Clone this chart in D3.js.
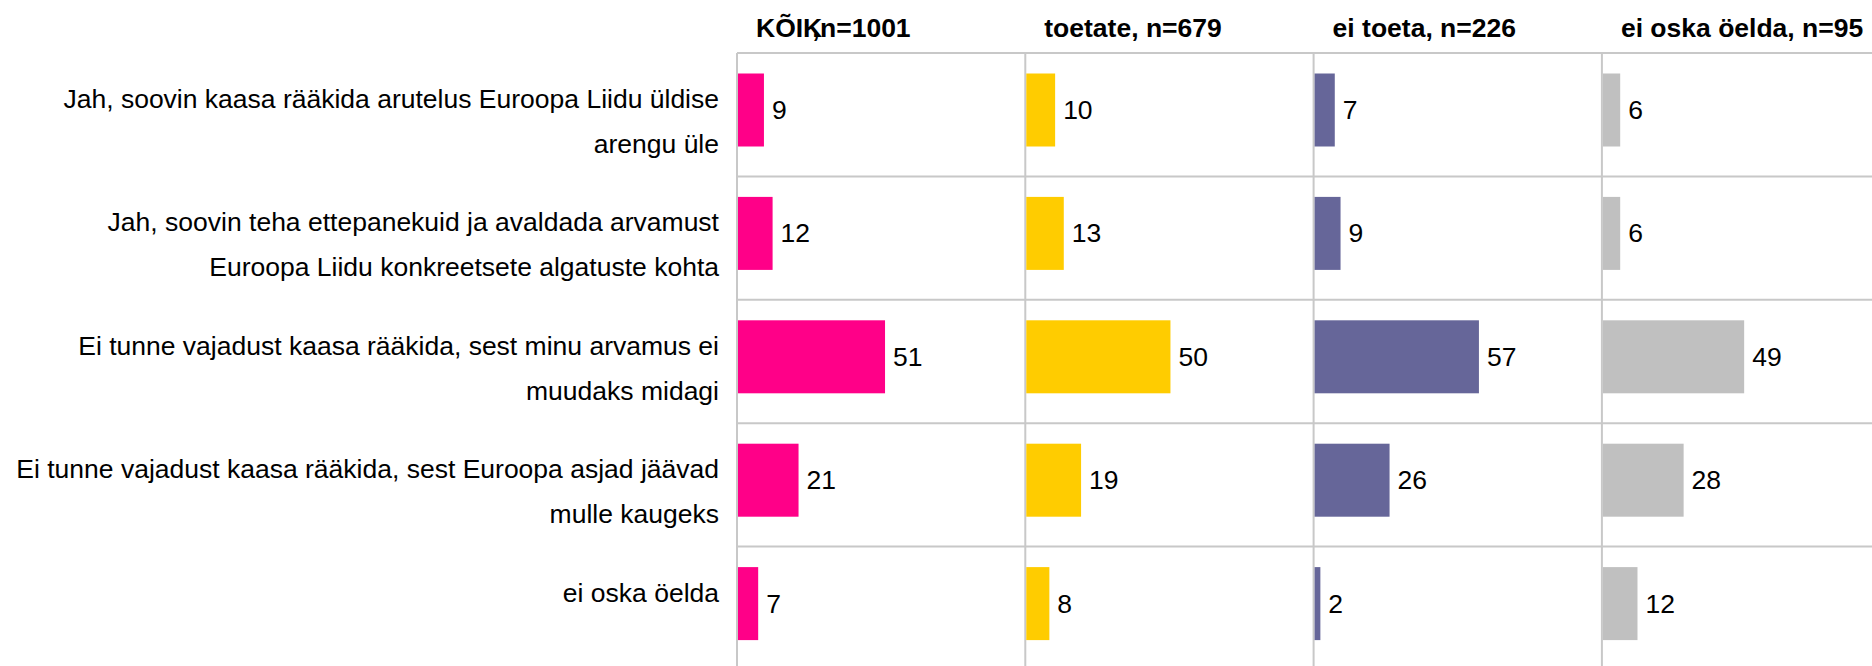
<!DOCTYPE html>
<html>
<head>
<meta charset="utf-8">
<script src="https://cdn.jsdelivr.net/npm/d3@7/dist/d3.min.js"></script>
<style>
    body { margin: 0; background: #ffffff; }
    text { font-family: "Liberation Sans", Arial, sans-serif; fill: #000000; }
</style>
</head>
<body>
<div id="chart_bars"></div>
<script>
// answer categories (line breaks as in the original)
var categories = [
    "Jah, soovin kaasa rääkida arutelus Euroopa Liidu üldise\narengu üle",
    "Jah, soovin teha ettepanekuid ja avaldada arvamust\nEuroopa Liidu konkreetsete algatuste kohta",
    "Ei tunne vajadust kaasa rääkida, sest minu arvamus ei\nmuudaks midagi",
    "Ei tunne vajadust kaasa rääkida, sest Euroopa asjad jäävad\nmulle kaugeks",
    "ei oska öelda"
];

// groups (panel headers)
var groups = ["KÕIK, n=1001", "toetate, n=679", "ei toeta, n=226", "ei oska öelda, n=95"];

// values per group, %
var valuesKoik = [9, 12, 51, 21, 7];
var valuesToetate = [10, 13, 50, 19, 8];
var valuesEiToeta = [7, 9, 57, 26, 2];
var valuesEiOska = [6, 6, 49, 28, 12];

var groupColors = ["#FF0088", "#FFCC00", "#666699", "#C0C0C0"];

var seriesValues = [valuesKoik, valuesToetate, valuesEiToeta, valuesEiOska];

drawPanelChart();

function drawPanelChart() {
    var width = 1872,
        height = 666;

    var plot = {
        left: 737,
        top: 53,
        panelWidth: 288.3,
        rowHeight: 123.4
    };

    var svg = d3.select("#chart_bars").append("svg")
        .attr("width", width)
        .attr("height", height);

    // one panel per group
    var xPanel = d3.scaleBand()
        .domain(groups)
        .range([plot.left, plot.left + plot.panelWidth * groups.length]);

    // one row per category
    var yRow = d3.scaleBand()
        .domain(categories)
        .range([plot.top, plot.top + plot.rowHeight * categories.length]);

    var xValue = d3.scaleLinear()
        .domain([0, 100])
        .range([0, xPanel.bandwidth()]);

    var gridColor = "#C8C8C8";

    // horizontal grid lines (row borders)
    svg.selectAll(".row-line")
        .data(categories)
        .enter().append("line")
        .attr("class", "row-line")
        .attr("x1", plot.left)
        .attr("x2", width)
        .attr("y1", function(d) { return yRow(d); })
        .attr("y2", function(d) { return yRow(d); })
        .style("stroke", gridColor)
        .style("stroke-width", 2);

    // category labels, right aligned
    var labels = svg.selectAll(".cat-label")
        .data(categories)
        .enter().append("text")
        .attr("class", "cat-label")
        .attr("text-anchor", "end")
        .style("font-size", "26.5px");

    labels.selectAll("tspan")
        .data(function(d) {
            return d.split("\n").map(function(line, i) {
                return { line: line, i: i, cat: d };
            });
        })
        .enter().append("tspan")
        .attr("x", 719)
        .attr("y", function(d) { return yRow(d.cat) + 55 + d.i * 45; })
        .text(function(d) { return d.line; });

    // panels
    groups.forEach(function(g, gi) {
        var x0 = xPanel(g);
        var panel = svg.append("g")
            .attr("class", "panel")
            .attr("transform", "translate(" + x0 + ",0)");

        // vertical axis line
        panel.append("line")
            .attr("x1", 0)
            .attr("x2", 0)
            .attr("y1", plot.top)
            .attr("y2", height)
            .style("stroke", gridColor)
            .style("stroke-width", 2);

        var rows = categories.map(function(c, i) {
            return { cat: c, value: seriesValues[gi][i] };
        });

        panel.selectAll(".bar")
            .data(rows)
            .enter().append("rect")
            .attr("class", "bar")
            .attr("x", 1)
            .attr("y", function(d) { return yRow(d.cat) + 20.5; })
            .attr("width", function(d) { return xValue(d.value); })
            .attr("height", 73)
            .style("fill", groupColors[gi]);

        panel.selectAll(".value")
            .data(rows)
            .enter().append("text")
            .attr("class", "value")
            .attr("x", function(d) { return xValue(d.value) + 9; })
            .attr("y", function(d) { return yRow(d.cat) + 20.5 + 36.5 + 9; })
            .style("font-size", "26.5px")
            .text(function(d) { return d.value; });

        // header
        var header = panel.append("text")
            .attr("class", "header")
            .attr("x", 19)
            .attr("y", 37)
            .style("font-size", "26.5px")
            .style("font-weight", "bold");

        if (gi === 0) {
            // the first header is drawn with the comma squeezed under the K
            var parts = g.split(", ");
            header.append("tspan").text(parts[0]);
            header.append("tspan").attr("dx", -10).text(",");
            header.append("tspan").attr("dx", -7).text(" " + parts[1]);
        } else {
            header.text(g);
        }
    });
}
</script>
</body>
</html>
